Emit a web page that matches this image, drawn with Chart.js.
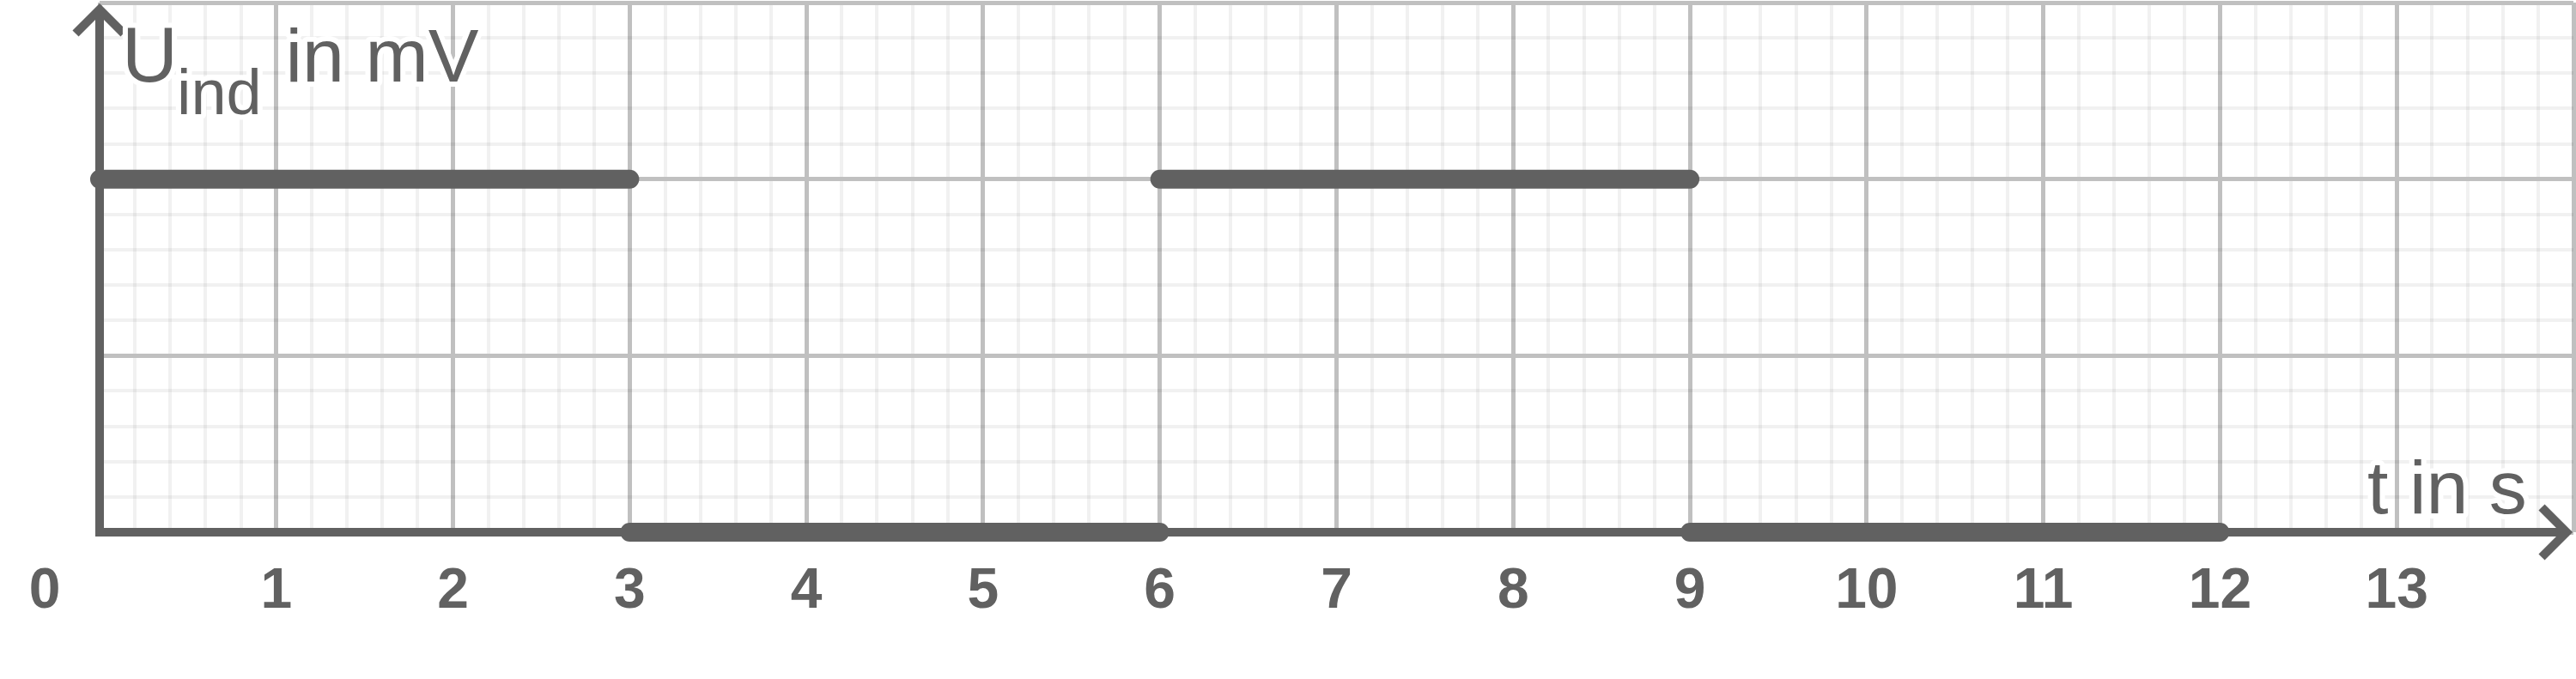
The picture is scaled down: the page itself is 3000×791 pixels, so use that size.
<!DOCTYPE html>
<html>
<head>
<meta charset="utf-8">
<script src="https://cdn.jsdelivr.net/npm/chart.js@4/dist/chart.umd.min.js"></script>
<style>
  html, body { margin: 0; padding: 0; background: #fff; }
  #wrap { width: 3000px; height: 791px; }
</style>
</head>
<body>
<div id="wrap"><canvas id="plot"></canvas></div>
<script>
// induced voltage, square wave with gaps at the jumps
const times   = [0, 3, 3, 3, 6, 6, 6, 9, 9, 9, 12]
const voltage = [2, 2, null, 0, 0, null, 2, 2, null, 0, 0]

// axis setup
const xMin = 0
const xMax = 14
const yMin = 0
const yMax = 3
const gridStep = 0.2
const xTickLabels = ['1', '2', '3', '4', '5', '6', '7', '8', '9', '10', '11', '12', '13']
const yAxisLabel = ['U', 'ind', ' in mV']
const xAxisLabel = 't in s'

const ink = '#616161'
const majorGrid = '#c0c0c0'
const minorGrid = 'rgba(0,0,0,0.055)'
const font = '"Liberation Sans", Arial, sans-serif'

const isWhole = v => Math.abs(v - Math.round(v)) < 1e-6

const gridColor = ctx => isWhole(ctx.tick.value) ? majorGrid : minorGrid
const gridWidth = ctx => isWhole(ctx.tick.value) ? 5 : 4

const points = times.map((t, i) => ({ x: t, y: voltage[i] }))

// draws the arrow axes and the axis titles
const axesPlugin = {
    id: 'axes',
    afterDatasetsDraw(chart) {
        const c = chart.ctx
        const xs = chart.scales.x
        const ys = chart.scales.y
        const ox = xs.getPixelForValue(0)
        const oy = ys.getPixelForValue(0)
        const area = chart.chartArea

        c.save()
        c.strokeStyle = ink
        c.lineWidth = 10
        c.lineCap = 'butt'
        c.lineJoin = 'miter'

        // y axis
        c.beginPath()
        c.moveTo(ox, oy + 5)
        c.lineTo(ox, area.top + 8)
        c.stroke()
        c.beginPath()
        c.moveTo(ox - 28, area.top + 36)
        c.lineTo(ox, area.top + 8)
        c.lineTo(ox + 28, area.top + 36)
        c.stroke()

        // x axis
        c.beginPath()
        c.moveTo(ox - 5, oy)
        c.lineTo(area.right - 8, oy)
        c.stroke()
        c.beginPath()
        c.moveTo(area.right - 37, oy - 29)
        c.lineTo(area.right - 8, oy)
        c.lineTo(area.right - 37, oy + 29)
        c.stroke()

        // titles with white halo
        const label = (txt, x, y, size) => {
            c.font = size + 'px ' + font
            c.textAlign = 'left'
            c.textBaseline = 'alphabetic'
            c.lineWidth = 12
            c.lineJoin = 'round'
            c.strokeStyle = '#fff'
            c.strokeText(txt, x, y)
            c.fillStyle = ink
            c.fillText(txt, x, y)
        }
        label(yAxisLabel[0], ox + 26, area.top + 92, 90)
        label(yAxisLabel[1], ox + 90, area.top + 130, 74)
        label(yAxisLabel[2], ox + 192, area.top + 92, 88)
        label(xAxisLabel, area.right - 240, oy - 22, 88)

        // the lone "0" below and left of the origin
        c.font = 'bold 66px ' + font
        c.textAlign = 'center'
        c.textBaseline = 'alphabetic'
        c.fillStyle = ink
        c.fillText('0', ox - 64, oy + 88)
        c.restore()
    }
}

new Chart('plot', {
    type: 'line',
    data: {
        datasets: [{
            data: points,
            borderColor: ink,
            borderWidth: 22,
            borderCapStyle: 'round',
            pointRadius: 0,
            spanGaps: false,
            tension: 0,
            clip: false
        }]
    },
    options: {
        responsive: true,
        maintainAspectRatio: false,
        devicePixelRatio: 1,
        animation: false,
        layout: { padding: { top: 3, right: 3, left: 0, bottom: 0 } },
        plugins: {
            legend: { display: false },
            tooltip: { enabled: false }
        },
        scales: {
            x: {
                type: 'linear',
                min: xMin,
                max: xMax,
                border: { display: false },
                grid: { color: gridColor, lineWidth: gridWidth, drawTicks: false },
                ticks: {
                    stepSize: gridStep,
                    autoSkip: false,
                    maxRotation: 0,
                    minRotation: 0,
                    padding: 30,
                    color: ink,
                    font: { family: font, size: 66, weight: 'bold' },
                    callback: v => {
                        if (!isWhole(v)) return ''
                        const s = String(Math.round(v))
                        return xTickLabels.includes(s) ? s : ''
                    }
                },
                afterFit: s => {
                    s.height = 171
                    s.paddingLeft = 0
                    s.paddingRight = 0
                }
            },
            y: {
                type: 'linear',
                min: yMin,
                max: yMax,
                border: { display: false },
                grid: { color: gridColor, lineWidth: gridWidth, drawTicks: false },
                ticks: { stepSize: gridStep, display: false },
                afterFit: s => {
                    s.width = 116
                    s.paddingTop = 0
                    s.paddingBottom = 0
                }
            }
        }
    },
    plugins: [axesPlugin]
});
</script>
</body>
</html>
